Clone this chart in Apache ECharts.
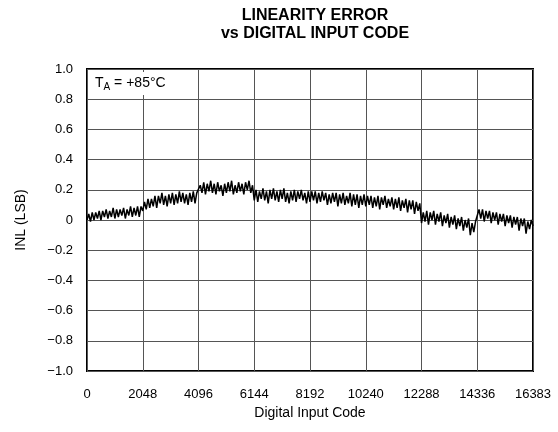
<!DOCTYPE html>
<html>
<head>
<meta charset="utf-8">
<script src="https://cdn.jsdelivr.net/npm/echarts@6/dist/echarts.min.js"></script>
<style>html,body{margin:0;padding:0;background:#fff}#c{width:558px;height:432px}</style>
</head>
<body>
<div id="c"></div>
<script>
// Code step between samples and INL values (LSB), one array per 2048-code block
var codeStep = 64;
var block0 = [0.00,0.04,-0.01,0.05,0.00,0.05,0.01,0.06,0.00,0.06,0.02,0.07,0.01,0.06,0.02,0.08,0.01,0.07,0.02,0.07,0.03,0.08,0.01,0.07,0.03,0.09,0.02,0.08,0.03,0.09,0.02,0.09];
var block1 = [0.06,0.12,0.07,0.14,0.08,0.14,0.09,0.16,0.08,0.16,0.11,0.18,0.10,0.16,0.09,0.17,0.11,0.18,0.10,0.17,0.11,0.19,0.12,0.18,0.11,0.17,0.10,0.18,0.12,0.19,0.11,0.18];
var block2 = [0.17,0.23,0.18,0.25,0.17,0.24,0.19,0.26,0.18,0.24,0.17,0.25,0.19,0.23,0.16,0.24,0.18,0.25,0.19,0.26,0.17,0.23,0.18,0.25,0.19,0.24,0.17,0.25,0.20,0.26,0.18,0.23];
var block3 = [0.13,0.20,0.12,0.19,0.14,0.21,0.13,0.19,0.11,0.20,0.14,0.21,0.13,0.19,0.12,0.20,0.14,0.21,0.12,0.18,0.11,0.19,0.13,0.20,0.12,0.19,0.14,0.20,0.13,0.18,0.11,0.19];
var block4 = [0.12,0.19,0.13,0.19,0.11,0.18,0.12,0.19,0.13,0.18,0.10,0.17,0.11,0.18,0.12,0.18,0.09,0.17,0.11,0.18,0.10,0.16,0.11,0.18,0.09,0.17,0.10,0.17,0.08,0.16,0.10,0.17];
var block5 = [0.09,0.16,0.10,0.16,0.08,0.15,0.09,0.16,0.07,0.15,0.10,0.16,0.08,0.14,0.09,0.15,0.07,0.14,0.08,0.15,0.06,0.13,0.08,0.14,0.05,0.13,0.07,0.13,0.04,0.12,0.06,0.11];
var block6 = [-0.02,0.05,-0.01,0.06,-0.03,0.05,0.00,0.06,-0.03,0.04,-0.01,0.05,-0.04,0.03,-0.02,0.04,-0.05,0.02,-0.03,0.03,-0.06,0.01,-0.04,0.02,-0.07,0.00,-0.05,0.01,-0.10,-0.02,-0.08,-0.01];
var block7 = [0.00,0.07,0.01,0.07,-0.01,0.06,0.01,0.06,-0.02,0.05,0.00,0.05,-0.03,0.04,-0.01,0.04,-0.04,0.03,-0.02,0.03,-0.05,0.02,-0.03,0.02,-0.07,0.01,-0.04,0.01,-0.09,-0.01,-0.06,0.00];
var lastCode = 16383;
var lastValue = -0.04;

var allValues = [].concat(block0,block1,block2,block3,block4,block5,block6,block7);
var seriesData = allValues.map(function(v,i){ return [i*codeStep, v]; });
seriesData.push([lastCode, lastValue]);

var FONT = 'Liberation Sans, Arial, Helvetica, sans-serif';
var chart = echarts.init(document.getElementById('c'), null, {renderer:'canvas'});
chart.setOption({
  animation: false,
  backgroundColor: '#fff',
  title: {
    text: 'LINEARITY ERROR\nvs DIGITAL INPUT CODE',
    left: 310, top: 2, textAlign: 'center',
    textStyle: {fontFamily: FONT, fontSize: 16, fontWeight: 'bold', color: '#000', lineHeight: 18}
  },
  grid: {left: 87, right: 25, top: 69, bottom: 61, show: true, borderColor: '#000', borderWidth: 2, backgroundColor: 'transparent'},
  xAxis: {
    type: 'value', min: 0, max: 16383, interval: 2048,
    name: 'Digital Input Code', nameLocation: 'middle', nameGap: 35,
    nameTextStyle: {fontFamily: FONT, fontSize: 14, color: '#000'},
    axisLine: {show: false}, axisTick: {show: false},
    axisLabel: {fontFamily: FONT, fontSize: 13, color: '#000', margin: 17, showMaxLabel: true,
      formatter: function(v){ return String(v); }},
    splitLine: {show: true, lineStyle: {color: '#555', width: 1}}
  },
  yAxis: {
    type: 'value', min: -1, max: 1, interval: 0.2,
    name: 'INL (LSB)', nameLocation: 'middle', nameGap: 59, nameRotate: 90,
    nameTextStyle: {fontFamily: FONT, fontSize: 14, color: '#000'},
    axisLine: {show: false}, axisTick: {show: false},
    axisLabel: {fontFamily: FONT, fontSize: 13, color: '#000', margin: 14,
      formatter: function(v){ if (Math.abs(v) < 1e-9) return '0'; return (v < 0 ? '\u2212' : '') + Math.abs(v).toFixed(1); }},
    splitLine: {show: true, lineStyle: {color: '#555', width: 1}}
  },
  graphic: [{
    type: 'text', left: 89, top: 72, z: 100,
    style: {
      text: '{t|T}{s|A}{t| = +85°C}',
      backgroundColor: '#fff', padding: [2, 6, 3, 6],
      rich: {
        t: {fontFamily: FONT, fontSize: 14, color: '#000', lineHeight: 18},
        s: {fontFamily: FONT, fontSize: 10, color: '#000', lineHeight: 18, verticalAlign: 'bottom', padding: [7,0,0,0]}
      }
    }
  }],
  series: [{
    type: 'line', data: seriesData, showSymbol: false,
    lineStyle: {color: '#000', width: 1.5}, itemStyle: {color: '#000'}
  }]
});
</script>
</body>
</html>
